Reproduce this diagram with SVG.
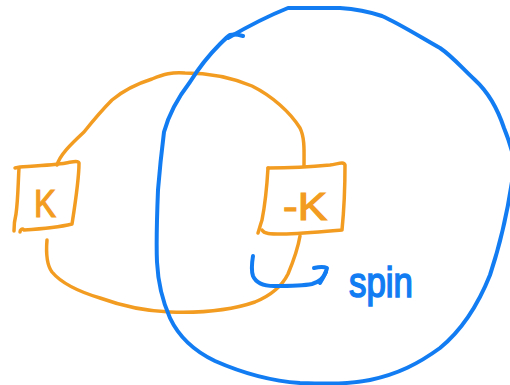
<svg xmlns="http://www.w3.org/2000/svg" width="510" height="385" viewBox="0 0 510 385">
  <style>
    .ink { fill: none; stroke-linecap: round; stroke-linejoin: round; }
    .orange { stroke: #F39C22; stroke-width: 3.5; }
    .blue { stroke: #127DF3; stroke-width: 4; }
    .lbl-o { fill: #F39C22; stroke: #F39C22; stroke-width: 1.2; font-family: "Liberation Sans", Arial, sans-serif; }
    .lbl-b { fill: #127DF3; stroke: #127DF3; stroke-width: 1.6; font-family: "Liberation Sans", Arial, sans-serif; }
  </style>
  <rect width="510" height="385" fill="#ffffff"/>

  <!-- orange links between the two boxes -->
  <g id="connectors">
    <path class="ink orange" d="M57,165 C60,155 70,145 84,132 C92,122 100,112 112,100 C124,90 136,84 152,79 C164,74 172,72 185,73 C205,73 228,76 252,86 C272,96 290,112 300,128 C305,138 304,152 304,166"/>
    <path class="ink orange" d="M47,240 C46,252 46,264 52,272 C62,284 80,292 100,298 C122,306 142,311 170,312 C200,313 232,310 255,302 C272,295 282,286 288,274 C293,262 298,248 300,236"/>
  </g>

  <!-- node K -->
  <g id="node-k">
    <path class="ink orange" d="M15,168 L20,167 C35,166 55,165 66,163 C72,162 78,160 79,163 C79,180 75,205 72,224 C60,227 40,229 24,230 C22,228 20,230 20,232"/>
    <path class="ink orange" d="M19,168 C18,185 18,200 16,214 C14,222 14,226 14,231"/>
    <text class="lbl-o" x="34" y="217" font-size="38" textLength="22" lengthAdjust="spacingAndGlyphs">K</text>
  </g>

  <!-- node -K -->
  <g id="node-minus-k">
    <path class="ink orange" d="M268,168 C290,168 310,167 330,165 C338,164 344,161 345,165 C345,185 344,210 342,230 C320,232 300,234 282,234 C270,234 264,234 262,230"/>
    <path class="ink orange" d="M268,168 C267,185 265,205 262,220 C260,226 259,230 258,233"/>
    <text class="lbl-o" x="283" y="220" font-size="38" textLength="44" lengthAdjust="spacingAndGlyphs">-K</text>
  </g>

  <!-- spin loop around -K -->
  <g id="spin-circle">
    <path class="ink blue" d="M228,38 C245,28 268,16 288,8 C305,8 320,8 340,8 C355,9 370,12 382,16 C400,24 422,38 440,48 C452,56 462,68 475,80 C488,92 498,110 504,128 C511,145 514,158 516,170"/>
    <path class="ink blue" d="M513,175 C508,210 500,245 490,275 C478,305 462,330 440,348 C418,364 398,374 370,380 C350,384 330,384 300,383 C270,381 240,372 215,361 C192,350 178,335 170,318 C162,300 158,282 157,262 C156,240 157,215 158,190 C160,165 162,148 164,132 C170,110 180,95 190,82 C200,66 210,54 220,44 C224,40 227,37 230,35 C234,34 239,35 243,36"/>
  </g>

  <!-- spin arrow and label -->
  <g id="spin-label">
    <path class="ink blue" d="M253,256 C252,262 251,270 253,276 C256,283 264,286 274,286 C290,286 302,286 312,284 C319,282 324,277 326,272"/>
    <path class="ink blue" d="M314,268 C318,267 323,266 327,268 C326,273 323,278 320,283"/>
    <text class="lbl-b" x="349" y="297" font-size="42" textLength="64" lengthAdjust="spacingAndGlyphs">spin</text>
  </g>
</svg>
